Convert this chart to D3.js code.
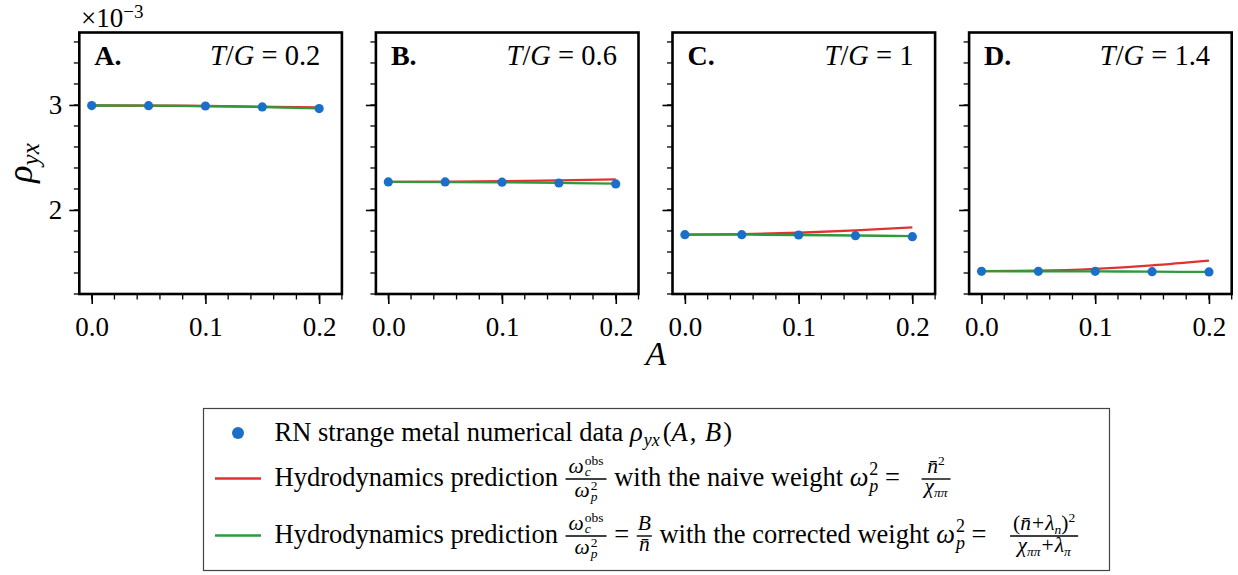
<!DOCTYPE html>
<html><head><meta charset="utf-8">
<script src="https://cdn.jsdelivr.net/npm/d3@7"></script>
<style>body{margin:0;background:#fff}svg{display:block}text{font-family:"Liberation Serif",serif;fill:#000}</style>
</head><body><svg id="c" width="1238" height="575"></svg>
<script>
// ---- data (rho_yx in units of 1e-3) ----
const aValues = [0, 0.05, 0.1, 0.15, 0.2];
const panelLetters = ["A.", "B.", "C.", "D."];
const tgValues = ["0.2", "0.6", "1", "1.4"];
const dataA = [2.994, 2.993, 2.990, 2.981, 2.966];
const dataB = [2.267, 2.267, 2.265, 2.257, 2.248];
const dataC = [1.765, 1.765, 1.762, 1.755, 1.746];
const dataD = [1.416, 1.416, 1.416, 1.413, 1.410];
const naiveA = [2.995, 2.994, 2.990, 2.984, 2.976];
const naiveB = [2.268, 2.270, 2.274, 2.281, 2.291];
const naiveC = [1.766, 1.770, 1.783, 1.805, 1.835];
const naiveD = [1.417, 1.422, 1.440, 1.472, 1.517];
const corrA = [2.995, 2.993, 2.989, 2.980, 2.968];
const corrB = [2.268, 2.266, 2.263, 2.258, 2.251];
const corrC = [1.766, 1.765, 1.762, 1.757, 1.751];
const corrD = [1.417, 1.416, 1.415, 1.413, 1.410];
const xMajor = [0, 0.1, 0.2];
const xTickLabels = ["0.0", "0.1", "0.2"];
const yMajor = [2, 3];
const yTickLabels = ["2", "3"];

const dataSets = [dataA, dataB, dataC, dataD];
const naiveSets = [naiveA, naiveB, naiveC, naiveD];
const corrSets = [corrA, corrB, corrC, corrD];

const BLUE = "#1b6fc8", RED = "#e03232", GREEN = "#2e9a3c";

const svg = d3.select("#c");
const panelW = 262.6, topY = 32.5, botY = 294, step = 296.6, left0 = 79.3;
const y = d3.scaleLinear().domain([1.2, 3.69]).range([botY, topY]);
const xMinor = d3.range(0, 0.2201, 0.02);
const yMinor = d3.range(1.2, 3.61, 0.2);

dataSets.forEach((pts, i) => {
  const L = left0 + i * step;
  const x = d3.scaleLinear().domain([-0.0109, 0.22]).range([L, L + panelW]);
  const g = svg.append("g");
  g.selectAll(".xm").data(xMinor).join("line")
    .attr("x1", d => x(d)).attr("x2", d => x(d)).attr("y1", botY).attr("y2", botY + 5.5)
    .attr("stroke", "#000").attr("stroke-width", 1.3);
  g.selectAll(".ym").data(yMinor).join("line")
    .attr("y1", d => y(d)).attr("y2", d => y(d)).attr("x1", L).attr("x2", L - 5.5)
    .attr("stroke", "#000").attr("stroke-width", 1.3);
  const xAxis = d3.axisBottom(x).tickValues(xMajor).tickFormat((d, k) => xTickLabels[k]).tickSize(10).tickPadding(6);
  const gx = g.append("g").attr("transform", `translate(0,${botY})`).call(xAxis);
  gx.select(".domain").remove();
  gx.selectAll("line").attr("stroke-width", 1.6);
  gx.selectAll("text").attr("font-size", 27).attr("font-family", "Liberation Serif").attr("dy", "0.95em");
  const yAxis = d3.axisLeft(y).tickValues(yMajor).tickFormat((d, k) => i === 0 ? yTickLabels[k] : "").tickSize(10).tickPadding(7);
  const gy = g.append("g").attr("transform", `translate(${L},0)`).call(yAxis);
  gy.select(".domain").remove();
  gy.selectAll("line").attr("stroke-width", 1.6);
  gy.selectAll("text").attr("font-size", 27).attr("font-family", "Liberation Serif");

  const line = d3.line().x((d, k) => x(aValues[k])).y(d => y(d)).curve(d3.curveMonotoneX);
  g.append("path").attr("d", line(naiveSets[i])).attr("fill", "none").attr("stroke", RED).attr("stroke-width", 2.3);
  g.append("path").attr("d", line(corrSets[i])).attr("fill", "none").attr("stroke", GREEN).attr("stroke-width", 2.3);
  g.selectAll(".pt").data(pts).join("circle")
    .attr("cx", (d, k) => x(aValues[k])).attr("cy", d => y(d)).attr("r", 4.6).attr("fill", BLUE);

  g.append("rect").attr("x", L).attr("y", topY).attr("width", panelW).attr("height", botY - topY)
    .attr("fill", "none").attr("stroke", "#000").attr("stroke-width", 2.6);

  g.append("text").attr("x", L + 15).attr("y", 65).attr("font-size", 28).attr("font-weight", "bold").text(panelLetters[i]);
  const t = g.append("text").attr("x", L + 241).attr("y", 65).attr("font-size", 28.5).attr("text-anchor", "end");
  t.append("tspan").attr("font-style", "italic").text("T");
  t.append("tspan").text("/");
  t.append("tspan").attr("font-style", "italic").text("G");
  t.append("tspan").text(" = " + tgValues[i]);
});

const mult = svg.append("text").attr("x", 81).attr("y", 27).attr("font-size", 27);
mult.append("tspan").text("×10");
mult.append("tspan").attr("font-size", 19).attr("dy", -9).text("−3");

const yl = svg.append("text").attr("transform", "translate(32,163) rotate(-90)").attr("text-anchor", "middle").attr("font-size", 36);
yl.append("tspan").attr("font-style", "italic").text("ρ");
yl.append("tspan").attr("font-style", "italic").attr("font-size", 25).attr("dy", 7).text("yx");
svg.append("text").attr("x", 656).attr("y", 365).attr("text-anchor", "middle").attr("font-size", 34).attr("font-style", "italic").text("A");

// ---- legend ----
const lg = svg.append("g");
lg.append("rect").attr("x", 203.5).attr("y", 408.5).attr("width", 906).attr("height", 162)
  .attr("fill", "#fff").attr("stroke", "#444").attr("stroke-width", 1.2);

const FS = 26.5, FR = 21.5, SS = 13.5;
function put(g, x, base, it) {
  if (it.sp !== undefined) return it.sp;
  if (it.stack) {
    let w = 0;
    it.stack.forEach(s => { w = Math.max(w, put(g, x, base, s)); });
    return w;
  }
  if (it.frac) {
    const pad = it.pad === undefined ? 4 : it.pad;
    const gn = g.append("g"), gd = g.append("g");
    let wn = 0; it.frac[0].forEach(s => { wn += put(gn, wn, 0, s); });
    let wd = 0; it.frac[1].forEach(s => { wd += put(gd, wd, 0, s); });
    const w = Math.max(wn, wd) + 2 * pad;
    const axis = base - 7;
    gn.attr("transform", `translate(${x + (w - wn) / 2},${axis - (it.nOff || 6)})`);
    gd.attr("transform", `translate(${x + (w - wd) / 2},${axis + (it.dOff || 18)})`);
    g.append("line").attr("x1", x + 1).attr("x2", x + w - 1).attr("y1", axis).attr("y2", axis).attr("stroke", "#000").attr("stroke-width", 1.4);
    return w;
  }
  const t = g.append("text").attr("x", x).attr("y", base + (it.dy || 0)).attr("font-size", it.sz || FS)
    .attr("xml:space", "preserve").style("white-space", "pre").text(it.t);
  if (it.it) t.attr("font-style", "italic");
  return t.node().getComputedTextLength() + (it.kern || 0);
}
function row(x, base, items) {
  let cx = x;
  items.forEach(it => { cx += put(lg, cx, base, it); });
  return cx;
}
const omegaObs = [{ t: "ω", it: 1, sz: FR }, { sp: 1 }, { stack: [{ t: "obs", sz: SS, dy: -8 }, { t: "c", it: 1, sz: SS, dy: 3 }] }];
const omegaP2small = [{ t: "ω", it: 1, sz: FR }, { sp: 1 }, { stack: [{ t: "2", sz: SS, dy: -7 }, { t: "p", it: 1, sz: SS, dy: 4 }] }];
const omegaP2 = [{ t: "ω", it: 1 }, { sp: 1 }, { stack: [{ t: "2", sz: 18, dy: -11 }, { t: "p", it: 1, sz: 18, dy: 6 }] }];

lg.append("circle").attr("cx", 238).attr("cy", 433).attr("r", 6).attr("fill", BLUE);
row(274.6, 441, [{ t: "RN strange metal numerical data " }, { t: "ρ", it: 1 }, { sp: 1 }, { t: "yx", it: 1, sz: 18, dy: 5 }, { sp: 3 },
  { t: "(" }, { t: "A", it: 1 }, { sp: 2 }, { t: ", " }, { sp: 2 }, { t: "B", it: 1 }, { sp: 2 }, { t: ")" }]);
lg.append("line").attr("x1", 215).attr("x2", 261).attr("y1", 478.5).attr("y2", 478.5).attr("stroke", RED).attr("stroke-width", 2.3);
row(274.6, 486, [{ t: "Hydrodynamics prediction " }, { frac: [omegaObs, omegaP2small] }, { t: " with the naive weight " },
  ...omegaP2, { t: " = " }, { sp: 14 },
  { frac: [[{ t: "n̄", it: 1, sz: FR }, { t: "2", sz: SS, dy: -8 }], [{ t: "χ", it: 1, sz: FR }, { t: "ππ", it: 1, sz: SS, dy: 4 }]], dOff: 14 }]);
lg.append("line").attr("x1", 215).attr("x2", 261).attr("y1", 535.5).attr("y2", 535.5).attr("stroke", GREEN).attr("stroke-width", 2.3);
row(274.6, 543, [{ t: "Hydrodynamics prediction " }, { frac: [omegaObs, omegaP2small] }, { t: " = " },
  { frac: [[{ t: "B", it: 1, sz: FR }], [{ t: "n̄", it: 1, sz: FR }]], pad: 2, dOff: 15 }, { t: " with the corrected weight " },
  ...omegaP2, { t: " = " }, { sp: 16 },
  { frac: [[{ t: "(", sz: FR }, { t: "n̄", it: 1, sz: FR }, { sp: 1 }, { t: "+", sz: FR }, { sp: 1 }, { t: "λ", it: 1, sz: FR }, { t: "n", it: 1, sz: SS, dy: 4 }, { t: ")", sz: FR }, { t: "2", sz: SS, dy: -8 }],
           [{ t: "χ", it: 1, sz: FR }, { t: "ππ", it: 1, sz: SS, dy: 4 }, { sp: 1 }, { t: "+", sz: FR }, { sp: 1 }, { t: "λ", it: 1, sz: FR }, { t: "π", it: 1, sz: SS, dy: 4 }]], dOff: 16 }]);
</script></body></html>
